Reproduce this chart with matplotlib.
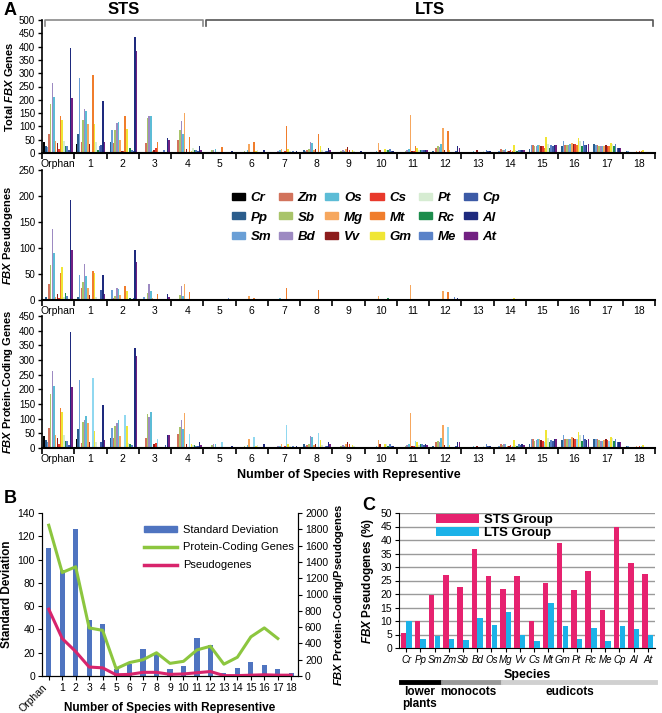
import matplotlib
matplotlib.use('Agg')
import matplotlib.pyplot as plt
from matplotlib.patches import Patch
from matplotlib.lines import Line2D
import numpy as np

plt.rcParams['font.family'] = 'Liberation Sans'
plt.rcParams['mathtext.fontset'] = 'custom'
plt.rcParams['mathtext.it'] = 'Liberation Sans:italic:bold'
plt.rcParams['mathtext.rm'] = 'Liberation Sans:bold'

W, H = 662, 713

species = ['Cr', 'Pp', 'Sm', 'Zm', 'Sb', 'Bd', 'Os', 'Mg', 'Vv', 'Cs', 'Mt', 'Gm',
           'Pt', 'Rc', 'Me', 'Cp', 'Al', 'At']
groups = ['Orphan'] + [str(i) for i in range(1, 19)]

sp_colors = ['#000000', '#2b5d8c', '#6a9fd6', '#d2735c', '#a9c46a', '#9d8ac2',
             '#5cbcd6', '#f6a75e', '#8c1c1c', '#e8392b', '#f07d2c', '#f0e634',
             '#d6ecd2', '#1c8c4c', '#5a82c8', '#3c5aa6', '#1e2a7e', '#722182']
# in the coding panel the Mt bars come out light cyan (except Orphan)
coding_colors = list(sp_colors)
coding_colors[10] = '#90d8f0'

# rows = groups (Orphan, 1..18), columns = species in the order above
total = [
    [42, 28, 22, 70, 185, 262, 212, 45, 37, 15, 140, 125, 45, 27, 26, 10, 395, 208],
    [35, 72, 282, 40, 125, 165, 158, 110, 32, 5, 293, 110, 40, 10, 25, 30, 197, 40],
    [0, 40, 88, 38, 85, 112, 118, 50, 8, 8, 140, 92, 5, 20, 12, 8, 437, 385],
    [0, 0, 5, 38, 130, 138, 138, 8, 10, 18, 42, 5, 3, 5, 10, 5, 58, 50],
    [0, 0, 0, 48, 85, 122, 73, 150, 14, 5, 62, 8, 18, 12, 10, 8, 27, 12],
    [0, 0, 3, 5, 10, 12, 15, 5, 2, 2, 22, 2, 2, 1, 2, 2, 8, 2],
    [0, 0, 3, 5, 8, 5, 10, 32, 5, 5, 42, 8, 10, 5, 5, 5, 12, 3],
    [0, 0, 3, 5, 5, 8, 12, 15, 5, 8, 100, 15, 8, 5, 8, 5, 8, 5],
    [0, 12, 8, 10, 15, 40, 37, 12, 15, 5, 70, 28, 10, 5, 8, 8, 20, 12],
    [0, 0, 3, 5, 8, 10, 8, 15, 21, 12, 5, 10, 8, 5, 5, 5, 6, 4],
    [0, 0, 2, 3, 5, 5, 8, 36, 12, 5, 5, 15, 12, 10, 15, 8, 8, 5],
    [0, 0, 3, 5, 8, 10, 15, 144, 8, 8, 25, 20, 10, 12, 12, 10, 12, 10],
    [0, 8, 5, 20, 25, 22, 35, 94, 10, 5, 81, 10, 5, 5, 5, 8, 25, 20],
    [0, 0, 3, 5, 5, 5, 8, 5, 10, 5, 5, 5, 8, 5, 12, 8, 8, 5],
    [0, 5, 8, 15, 10, 12, 15, 8, 8, 10, 8, 31, 10, 8, 12, 10, 12, 10],
    [5, 15, 30, 30, 25, 28, 30, 30, 28, 25, 20, 61, 35, 20, 30, 25, 30, 30],
    [0, 28, 44, 30, 30, 30, 32, 38, 35, 32, 30, 56, 45, 25, 44, 30, 30, 32],
    [0, 32, 30, 30, 28, 25, 25, 28, 30, 28, 25, 37, 35, 25, 32, 20, 20, 20],
    [0, 6, 8, 5, 5, 5, 5, 6, 5, 8, 6, 10, 5, 5, 5, 5, 5, 3],
]

pseudo = [
    [2, 5, 2, 30, 68, 137, 90, 5, 12, 3, 52, 63, 5, 14, 8, 2, 192, 96],
    [1, 5, 48, 24, 35, 70, 46, 23, 10, 2, 56, 51, 5, 1, 2, 20, 48, 12],
    [0, 1, 20, 3, 8, 23, 21, 10, 1, 1, 26, 17, 1, 3, 1, 3, 97, 73],
    [0, 0, 5, 2, 13, 31, 17, 3, 0, 0, 11, 0, 0, 0, 0, 0, 12, 6],
    [0, 0, 0, 1, 10, 27, 7, 31, 1, 0, 15, 1, 0, 0, 1, 2, 2, 0],
    [0, 0, 0, 0, 0, 0, 0, 0, 0, 0, 2, 0, 0, 0, 4, 0, 2, 0],
    [0, 0, 0, 0, 0, 0, 0, 7, 0, 0, 3, 0, 0, 0, 0, 0, 0, 0],
    [0, 0, 0, 0, 0, 0, 4, 0, 0, 0, 24, 0, 0, 0, 0, 0, 2, 0],
    [0, 0, 0, 0, 0, 0, 0, 2, 0, 0, 20, 0, 0, 0, 0, 2, 0, 0],
    [0, 0, 0, 0, 0, 0, 0, 0, 2, 0, 0, 0, 0, 0, 0, 2, 1, 0],
    [0, 0, 0, 0, 0, 0, 0, 8, 0, 0, 0, 0, 0, 3, 0, 0, 0, 0],
    [0, 0, 0, 0, 0, 0, 2, 28, 0, 0, 0, 0, 0, 0, 0, 0, 0, 0],
    [0, 0, 0, 0, 0, 0, 0, 17, 0, 0, 15, 0, 0, 0, 5, 0, 3, 0],
    [0, 0, 0, 0, 0, 0, 0, 0, 2, 0, 0, 0, 0, 0, 0, 0, 0, 0],
    [0, 0, 0, 0, 0, 0, 0, 0, 0, 0, 0, 4, 0, 0, 0, 0, 0, 0],
    [0, 0, 0, 0, 0, 0, 0, 0, 0, 0, 0, 0, 0, 0, 2, 0, 0, 0],
    [0, 0, 0, 0, 0, 0, 0, 2, 0, 0, 0, 2, 0, 0, 0, 0, 2, 0],
    [0, 0, 0, 0, 0, 0, 0, 0, 0, 0, 0, 0, 0, 0, 0, 0, 1, 0],
    [0, 0, 0, 0, 0, 0, 0, 0, 0, 0, 0, 0, 0, 0, 0, 0, 0, 0],
]

coding = [
    [42, 26, 22, 68, 183, 263, 212, 45, 35, 15, 138, 122, 45, 25, 25, 10, 395, 207],
    [30, 64, 232, 17, 88, 96, 110, 85, 20, 3, 237, 58, 20, 3, 5, 22, 148, 27],
    [0, 35, 68, 35, 75, 85, 95, 40, 5, 5, 113, 75, 17, 13, 10, 5, 340, 313],
    [0, 0, 0, 33, 117, 107, 122, 3, 13, 18, 30, 3, 3, 3, 3, 10, 46, 45],
    [0, 0, 0, 47, 72, 95, 65, 118, 12, 3, 47, 13, 10, 10, 8, 8, 22, 10],
    [0, 0, 3, 5, 10, 12, 15, 5, 2, 2, 20, 2, 2, 1, 2, 2, 6, 2],
    [0, 0, 3, 5, 8, 5, 10, 30, 5, 5, 38, 8, 10, 5, 5, 5, 12, 3],
    [0, 0, 3, 5, 5, 8, 8, 15, 5, 8, 78, 15, 8, 5, 8, 5, 6, 5],
    [0, 12, 8, 10, 15, 40, 37, 10, 15, 5, 50, 28, 10, 5, 8, 6, 20, 12],
    [0, 0, 3, 5, 8, 10, 8, 15, 19, 12, 5, 10, 8, 5, 5, 3, 5, 4],
    [0, 0, 2, 3, 5, 5, 8, 28, 12, 5, 5, 15, 12, 7, 15, 8, 8, 5],
    [0, 0, 3, 5, 8, 10, 13, 118, 8, 8, 25, 20, 10, 12, 12, 10, 12, 10],
    [0, 8, 5, 20, 25, 22, 35, 77, 10, 5, 70, 10, 5, 5, 3, 8, 22, 20],
    [0, 0, 3, 5, 5, 5, 8, 5, 8, 5, 5, 5, 8, 5, 12, 8, 8, 5],
    [0, 5, 8, 15, 10, 12, 15, 8, 8, 10, 8, 27, 10, 8, 12, 10, 12, 10],
    [5, 15, 30, 30, 25, 28, 30, 30, 28, 25, 20, 61, 35, 20, 28, 25, 30, 30],
    [0, 28, 44, 30, 30, 30, 32, 36, 35, 32, 30, 54, 45, 25, 44, 30, 28, 32],
    [0, 32, 30, 30, 28, 25, 25, 28, 30, 28, 25, 37, 35, 25, 32, 20, 20, 20],
    [0, 6, 8, 5, 5, 5, 5, 6, 5, 8, 6, 10, 5, 5, 5, 5, 5, 3],
]

# panel B
b_labels = groups
std_dev = [110, 91, 126, 48, 45, 6, 10, 23, 19, 6, 9, 33, 27, 3, 7, 12, 9.5, 6, 3]
coding_sum = [1850, 1270, 1340, 590, 560, 90, 165, 200, 285, 155, 180, 320, 365,
              145, 230, 480, 590, 460]
pseudo_sum = [820, 460, 300, 110, 100, 15, 20, 45, 45, 20, 25, 40, 55, 5, 5, 10,
              15, 10, 10]

# panel C
sts_pct = [5.5, 10, 19.5, 27, 22.5, 36.5, 26.5, 22, 26.5, 10, 24, 39, 21.5, 28.5,
           14, 45, 31.5, 27.5]
lts_pct = [10, 3.5, 4.5, 3.5, 3, 11, 8.5, 13.5, 5, 2.5, 16.5, 8, 3.2, 7.3, 2.5,
           8.3, 7, 4.7]
clades = ['lower\nplants', 'monocots', 'eudicots']


def rect(l, t, r, b):
    return [l / W, 1 - b / H, (r - l) / W, (b - t) / H]


fig = plt.figure(figsize=(W / 100, H / 100), dpi=100)

# ---------------- panel A ----------------
panels = [
    (rect(42, 20, 655, 153), total, 500, r'Total $\mathit{FBX}$ Genes'),
    (rect(42, 170, 655, 300), pseudo, 250, r'$\mathit{FBX}$ Pseudogenes'),
    (rect(42, 316, 655, 448), coding, 450, r'$\mathit{FBX}$ Protein-Coding Genes'),
]
ns = len(species)
gw = 0.92
bw = gw / ns
xg = np.arange(len(groups))
axesA = []
for k, (pos, data, ymax, ylab) in enumerate(panels):
    ax = fig.add_axes(pos)
    arr = np.array(data)
    for s in range(ns):
        cols = sp_colors if k < 2 else coding_colors
        xs = xg - gw / 2 + (s + 0.5) * bw
        bc = [cols[s] if (k < 2 or g > 0) else sp_colors[s] for g in range(len(groups))]
        ax.bar(xs, arr[:, s], width=bw * 0.95, color=bc, linewidth=0)
    ax.set_xlim(-0.5, len(groups) - 0.5)
    ax.set_ylim(0, ymax)
    ax.set_yticks(np.arange(0, ymax + 1, 50))
    ax.tick_params(axis='y', labelsize=7, length=3, width=1, pad=2)
    ax.set_xticks(np.arange(-0.5, len(groups), 1))
    ax.set_xticklabels([])
    ax.set_xticks(xg, minor=True)
    ax.set_xticklabels(groups, minor=True, fontsize=7.5)
    ax.tick_params(axis='x', which='major', length=4, width=1.2)
    ax.tick_params(axis='x', which='minor', length=0, pad=4)
    for side in ['top', 'right']:
        ax.spines[side].set_visible(False)
    ax.spines['bottom'].set_linewidth(1.5)
    ax.spines['left'].set_linewidth(1.2)
    ax.set_ylabel(ylab, fontsize=8, fontweight='bold', labelpad=3)
    axesA.append(ax)

axesA[2].set_xlabel('Number of Species with Representive', fontsize=9,
                    fontweight='bold', labelpad=4)

# STS / LTS brackets
top = axesA[0]
for x0, x1, col, lab in [(-0.41, 4.49, '#8a8a8a', 'STS'), (4.58, 18.44, '#555555', 'LTS')]:
    top.plot([x0, x0, x1, x1], [478, 500, 500, 478], color=col, lw=1.2,
             clip_on=False)
    top.text((x0 + x1) / 2, 512, lab, ha='center', va='bottom', fontsize=12,
             fontweight='bold')

handles = [Patch(color=c) for c in sp_colors]
leg = axesA[1].legend(handles, species, ncol=6, loc='upper left',
                      bbox_to_anchor=(0.29, 0.92), frameon=False,
                      prop={'weight': 'bold', 'style': 'italic', 'size': 9.5},
                      handlelength=1.0, handleheight=0.45, handletextpad=0.45,
                      columnspacing=0.55, labelspacing=0.55)

# ---------------- panel B ----------------
axB = fig.add_axes(rect(42, 513, 298, 676))
xb = np.arange(len(b_labels))
axB.bar(xb, std_dev, width=0.38, color='#4f74c0', label='Standard Deviation')
axB.set_xlim(-0.5, len(b_labels) - 0.5)
axB.set_ylim(0, 140)
axB.set_yticks(range(0, 141, 20))
axB.set_xticks(xb)
axB.set_xticklabels(b_labels, fontsize=7.5)
axB.get_xticklabels()[0].set_rotation(45)
axB.get_xticklabels()[0].set_ha('right')
axB.tick_params(labelsize=7.5, length=3, pad=2)
axB.set_ylabel('Standard Deviation', fontsize=8.5, fontweight='bold', labelpad=3)
axB.set_xlabel('Number of Species with Representive', fontsize=8.5,
               fontweight='bold')
axB.xaxis.set_label_coords(0.5, -0.16)
axB.spines['top'].set_visible(False)
axB2 = axB.twinx()
axB2.plot(xb[:len(coding_sum)], coding_sum, color='#8cc63f', lw=2.2)
axB2.plot(xb, pseudo_sum, color='#d8246c', lw=2.2)
axB2.set_ylim(0, 2000)
axB2.set_yticks(range(0, 2001, 200))
axB2.tick_params(labelsize=7.5, length=3, pad=2)
axB2.set_ylabel(r'$\mathit{FBX}$ Protein-Coding/Pseudogenes', fontsize=8,
                fontweight='bold', labelpad=3)
axB2.spines['top'].set_visible(False)
hB = [Patch(color='#4f74c0'), Line2D([], [], color='#8cc63f', lw=2.5),
      Line2D([], [], color='#d8246c', lw=2.5)]
axB2.legend(hB, ['Standard Deviation', 'Protein-Coding Genes', 'Pseudogenes'],
            loc='upper left', bbox_to_anchor=(0.36, 0.99), frameon=False,
            fontsize=8, handlelength=3.0, handleheight=0.5, labelspacing=0.7,
            handletextpad=0.5)

# ---------------- panel C ----------------
axC = fig.add_axes(rect(399, 513, 655, 648))
xc = np.arange(len(species))
axC.bar(xc - 0.2, sts_pct, width=0.38, color='#e6226f', label='STS Group', zorder=3)
axC.bar(xc + 0.2, lts_pct, width=0.38, color='#1cb2e8', label='LTS Group', zorder=3)
axC.set_xlim(-0.5, len(species) - 0.5)
axC.set_ylim(0, 50)
axC.set_yticks(range(0, 51, 5))
axC.yaxis.grid(True, color='#9a9a9a', lw=1.0, zorder=0)
axC.set_xticks(xc)
axC.set_xticklabels(species, fontsize=7, style='italic')
axC.tick_params(labelsize=7.5, length=3, pad=2)
axC.tick_params(axis='x', labelsize=7)
for side in ['top', 'right']:
    axC.spines[side].set_visible(False)
axC.set_ylabel(r'$\mathit{FBX}$ Pseudogenes (%)', fontsize=8.5, fontweight='bold',
               labelpad=3)
axC.set_xlabel('Species', fontsize=9, fontweight='bold', labelpad=3)
axC.legend(loc='upper left', bbox_to_anchor=(0.1, 1.08), frameon=False,
           prop={'weight': 'bold', 'size': 9.5}, handlelength=3.2,
           handleheight=0.7, labelspacing=0.05, handletextpad=0.4)

# clade bars under panel C
for (x0, x1, col), lab, tx in zip([(401, 440, '#000000'), (443, 500, '#999999'),
                                   (503, 655, '#d0d0d0')], clades,
                                  [(420, 686), (468, 686), (570, 686)]):
    fig.add_artist(Line2D([x0 / W, x1 / W], [1 - 682 / H] * 2, color=col, lw=3.5))
    fig.text(tx[0] / W, 1 - tx[1] / H, lab, ha='center', va='top', fontsize=8.5,
             fontweight='bold', linespacing=1.0)

for lab, (x, y) in [('A', (4, 2)), ('B', (4, 490)), ('C', (362, 497))]:
    fig.text(x / W, 1 - y / H, lab, fontsize=13, fontweight='bold', va='top')

fig.savefig('out.png', dpi=100)
